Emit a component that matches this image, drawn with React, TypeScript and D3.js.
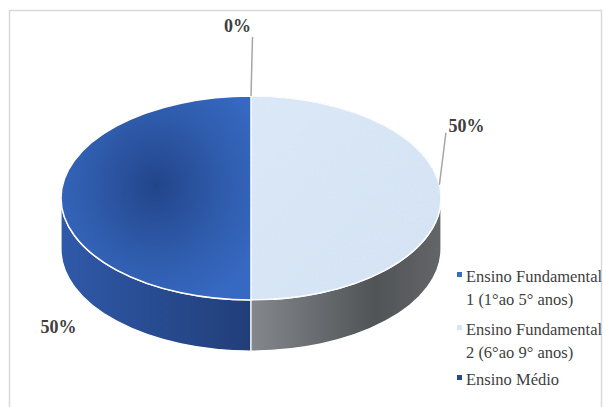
import React from 'react';
import * as d3 from 'd3';

// Series: share of respondents per school level
const categories = ['Ensino Fundamental 1 (1°ao 5° anos)', 'Ensino Fundamental 2 (6°ao 9° anos)', 'Ensino Médio'];
const legendLines = [
  ['Ensino Fundamental', '1 (1°ao 5° anos)'],
  ['Ensino Fundamental', '2 (6°ao 9° anos)'],
  ['Ensino Médio'],
];
const values = [50, 50, 0];

const W = 603;
const H = 407;

// 3D pie geometry
const cx = 251;
const cy = 198;
const rx = 190;
const ry = 102;
const depth = 51;

const legendSwatch = ['#3b6cc4', '#d6e5f5', '#274a8c'];

// label placement relative to each slice's rim anchor
const labelLayout = [
  { shift: 0, leader: false, tx: -2.5, ty: 135, lx: 0, ly: 0 },
  { shift: -0.13, leader: true, tx: 27, ty: -53, lx: 6.5, ly: -52 },
  { shift: 0, leader: true, tx: -13.5, ty: -64, lx: 1.5, ly: -59 },
];

const serif = "'Liberation Serif', 'Times New Roman', serif";

const pt = (a: number, dy = 0): [number, number] => [cx + rx * Math.sin(a), cy - ry * Math.cos(a) + dy];
const f = (p: [number, number]) => `${p[0].toFixed(2)},${p[1].toFixed(2)}`;

export default function App() {
  const total = d3.sum(values);
  const pct = d3.format('.0%');
  const pie = d3.pie<number>().sort(null).startAngle(2 * Math.PI).endAngle(0);
  const arcs = pie(values).map((a, i) => {
    const lo = Math.min(a.startAngle, a.endAngle);
    const hi = Math.max(a.startAngle, a.endAngle);
    return { i, lo, hi, value: a.value };
  });

  const topPath = (lo: number, hi: number) =>
    `M${cx},${cy} L${f(pt(lo))} A${rx},${ry} 0 ${hi - lo > Math.PI ? 1 : 0} 1 ${f(pt(hi))} Z`;

  const sidePath = (lo: number, hi: number) => {
    const a0 = Math.max(lo, Math.PI / 2);
    const a1 = Math.min(hi, (3 * Math.PI) / 2);
    if (a1 <= a0) return null;
    return `M${f(pt(a0))} A${rx},${ry} 0 0 1 ${f(pt(a1))} L${f(pt(a1, depth))} A${rx},${ry} 0 0 0 ${f(pt(a0, depth))} Z`;
  };

  const topFills = ['url(#topBlue)', 'url(#topLight)', '#274a8c'];
  const sideFills = ['url(#sideBlue)', 'url(#sideGray)', '#1c3566'];

  return (
    <svg width={W} height={H} style={{ position: 'absolute', left: 0, top: 0, fontFamily: serif }}>
      <defs>
        <radialGradient id="topBlue" cx="0.5" cy="0.44" r="0.62" fx="0.5" fy="0.44">
          <stop offset="0" stopColor="#22458a" />
          <stop offset="0.55" stopColor="#2f5bab" />
          <stop offset="1" stopColor="#3669c2" />
        </radialGradient>
        <linearGradient id="topLight" x1="0" y1="0" x2="1" y2="1">
          <stop offset="0" stopColor="#dae8f7" />
          <stop offset="1" stopColor="#d3e2f3" />
        </linearGradient>
        <linearGradient id="sideBlue" x1="0" y1="0" x2="1" y2="0">
          <stop offset="0" stopColor="#2f59a9" />
          <stop offset="1" stopColor="#213e78" />
        </linearGradient>
        <linearGradient id="sideGray" x1="0" y1="0" x2="1" y2="0">
          <stop offset="0" stopColor="#84878b" />
          <stop offset="0.65" stopColor="#515457" />
          <stop offset="1" stopColor="#636568" />
        </linearGradient>
        <filter id="grain" x="0" y="0" width="1" height="1">
          <feTurbulence type="fractalNoise" baseFrequency="0.6" numOctaves="2" seed="3" result="noise" />
          <feColorMatrix in="noise" type="matrix"
            values="0 0 0 0 0.72  0 0 0 0 0.8  0 0 0 0 0.9  0 0 0 -1.4 0.8" result="speck" />
          <feComposite in="speck" in2="SourceGraphic" operator="in" result="clipped" />
          <feMerge>
            <feMergeNode in="SourceGraphic" />
            <feMergeNode in="clipped" />
          </feMerge>
        </filter>
      </defs>

      {/* chart frame */}
      <path d={`M9.5,${H} V10.5 H601.5 V${H}`} fill="none" stroke="#d9d9d9" strokeWidth={1.5} />

      {/* side walls */}
      {arcs.map((a) => {
        const d = sidePath(a.lo, a.hi);
        return d ? <path key={`s${a.i}`} d={d} fill={sideFills[a.i]} stroke="#ffffff" strokeWidth={1.2} /> : null;
      })}

      {/* top faces */}
      {arcs.map((a) =>
        a.hi - a.lo > 0 ? (
          <path key={`t${a.i}`} d={topPath(a.lo, a.hi)} fill={topFills[a.i]} stroke="#ffffff" strokeWidth={1.5}
            filter={a.i === 1 ? 'url(#grain)' : undefined} />
        ) : null
      )}

      {/* data labels */}
      {arcs.map((a) => {
        const L = labelLayout[a.i];
        const mid = (a.lo + a.hi) / 2 + L.shift;
        const [ax, ay] = pt(mid);
        return (
          <g key={`l${a.i}`}>
            {L.leader && (
              <line x1={ax} y1={ay} x2={ax + L.lx} y2={ay + L.ly} stroke="#a6a6a6" strokeWidth={1.5} />
            )}
            <text x={ax + L.tx} y={ay + L.ty} textAnchor="middle" fontSize={18} fontWeight="bold" fill="#404040"
              style={{ fontFamily: serif }}>
              {pct(a.value / total)}
            </text>
          </g>
        );
      })}

      {/* legend */}
      {categories.map((c, i) => {
        const y0 = [282, 335, 385][i];
        return (
          <g key={c}>
            <rect x={457} y={y0 - 10} width={5} height={5} fill={legendSwatch[i]} />
            {legendLines[i].map((t, j) => (
              <text key={j} x={466} y={y0 + j * 23} fontSize={16.5} fill="#404040" style={{ fontFamily: serif }}>
                {t}
              </text>
            ))}
          </g>
        );
      })}
    </svg>
  );
}
